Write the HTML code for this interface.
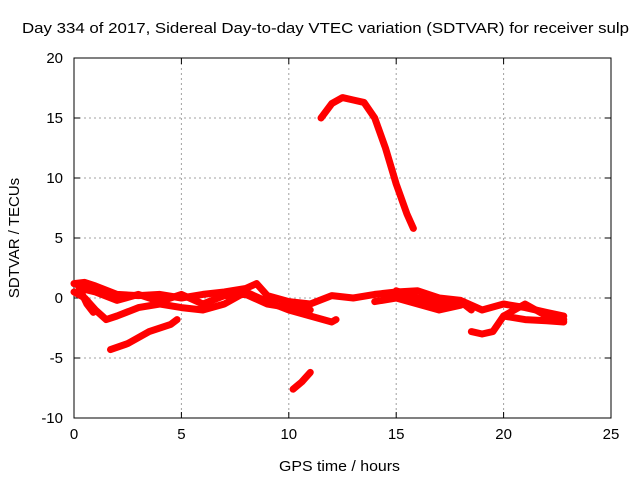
<!DOCTYPE html>
<html><head><meta charset="utf-8"><style>
body{margin:0;background:#fff;}
svg{display:block;font-family:"Liberation Sans",sans-serif;}
</style></head><body>
<svg id="chart" width="640" height="480">
<g id="grid"></g>
<g id="axes"></g>
<g id="series"></g>
<text x="22" y="33" font-size="15" textLength="607" lengthAdjust="spacingAndGlyphs">Day 334 of 2017, Sidereal Day-to-day VTEC variation (SDTVAR) for receiver sulp</text>
<text x="279" y="471" font-size="15" textLength="121" lengthAdjust="spacingAndGlyphs">GPS time / hours</text>
<text transform="translate(19,238) rotate(-90)" text-anchor="middle" font-size="15">SDTVAR / TECUs</text>
</svg>
<script>
const xTicks=[0,5,10,15,20,25];
const yTicks=[-10,-5,0,5,10,15,20];
const trackMain=[[0,1.2],[0.5,1.3],[1,1],[2,0.3],[3,0.2],[4,0.3],[5,0],[6,0.3],[7,0.5],[8,0.8],[8.5,1.2],[9,0.2],[10,-0.3],[11,-0.5],[12,0.2],[13,0],[14,0.3],[15,0.5],[16,0.6],[17,0],[18,-0.2],[19,-1],[20,-0.5],[21,-0.8],[22,-1.2],[22.8,-1.5]];
const trackLow=[[0,0.5],[0.5,0],[1,-1],[1.5,-1.8],[2,-1.5],[3,-0.8],[4,-0.5],[5,-0.8],[6,-1],[7,-0.5],[8,0.5],[9,-0.3],[10,-1],[11,-1.5],[12,-2],[12.2,-1.8]];
const trackUp2=[[0.3,0.8],[1,0.5],[2,-0.2],[3,0.3],[4,-0.3],[5,0.3],[6,-0.5],[7,0.2],[8,0.3],[9,-0.5],[10,-0.8],[11,-1]];
const trackShort=[[0.2,1],[0.6,-0.5],[0.9,-1.2]];
const trackDip=[[1.7,-4.3],[2.5,-3.8],[3.5,-2.8],[4.5,-2.2],[4.8,-1.8]];
const trackMid=[[14,-0.3],[15,0],[16,-0.5],[17,-1],[18,-0.6]];
const trackMid2=[[15,0.6],[16,0],[17,-0.5],[18,-0.3],[18.5,-1]];
const trackLate=[[18.5,-2.8],[19,-3],[19.5,-2.8],[20,-1.5],[21,-0.5],[22,-1.5],[22.8,-1.8]];
const trackLate2=[[20,-1.5],[21,-1.8],[22,-1.9],[22.8,-2]];
const trackArc=[[11.5,15],[12,16.2],[12.5,16.7],[13,16.5],[13.5,16.3],[14,15],[14.5,12.5],[15,9.5],[15.5,7],[15.8,5.8]];
const trackNeg=[[10.2,-7.6],[10.6,-7],[11,-6.2]];
const tracks=[trackMain,trackLow,trackUp2,trackShort,trackDip,trackMid,trackMid2,trackLate,trackLate2,trackArc,trackNeg];
const X0=74,X1=611,Y0=418,Y1=58;
const sx=v=>X0+(v-0)/(25-0)*(X1-X0);
const sy=v=>Y0-(v+10)/30*(Y0-Y1);
const NS="http://www.w3.org/2000/svg";
const grid=document.getElementById('grid'),axes=document.getElementById('axes'),ser=document.getElementById('series');
function mk(tag,attrs,parent){const e=document.createElementNS(NS,tag);for(const k in attrs)e.setAttribute(k,attrs[k]);parent.appendChild(e);return e;}
xTicks.forEach(t=>{
 const x=sx(t);
 const g=mk('line',{x1:x,x2:x,y1:Y1,y2:Y0,stroke:'#a0a0a0','stroke-dasharray':'2,3'},grid);
 
 
 mk('line',{x1:x,x2:x,y1:Y0,y2:Y0-6,stroke:'#000'},axes);
 mk('line',{x1:x,x2:x,y1:Y1,y2:Y1+6,stroke:'#000'},axes);
 const l=mk('text',{x:x,y:Y0+21,'text-anchor':'middle','font-size':'15'},axes);
 l.textContent=t;
 
 
});
yTicks.forEach(t=>{
 const y=sy(t);
 const g=mk('line',{x1:X0,x2:X1,y1:y,y2:y,stroke:'#a0a0a0','stroke-dasharray':'2,3'},grid);
 
 
 mk('line',{x1:X0,x2:X0+6,y1:y,y2:y,stroke:'#000'},axes);
 mk('line',{x1:X1,x2:X1-6,y1:y,y2:y,stroke:'#000'},axes);
 const l=mk('text',{x:X0-11,y:y+5,'text-anchor':'end','font-size':'15'},axes);
 l.textContent=t;
 
 
});
const fr=mk('rect',{x:X0,y:Y1,width:X1-X0,height:Y0-Y1,fill:'none',stroke:'#000'},axes);


tracks.forEach(tr=>{
 const p=mk('polyline',{points:tr.map(d=>sx(d[0])+','+sy(d[1])).join(' '),fill:'none',stroke:'#ff0000','stroke-width':'7','stroke-linejoin':'round','stroke-linecap':'round'},ser);
 
 
});
</script>
</body></html>
